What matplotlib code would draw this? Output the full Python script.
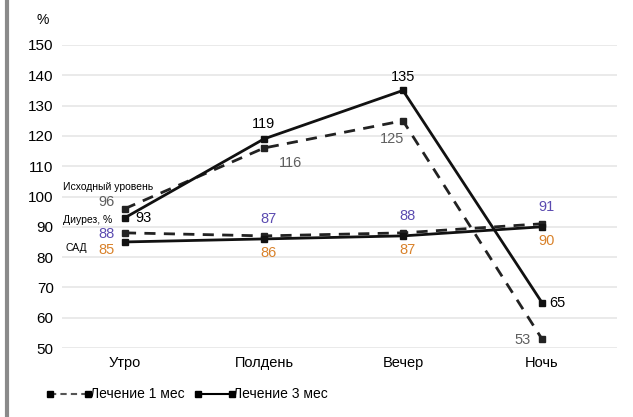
import matplotlib.pyplot as plt

categories = ["Утро", "Полдень", "Вечер", "Ночь"]
diuresis_1m = [96, 116, 125, 53]
diuresis_3m = [93, 119, 135, 65]
sad_1m = [88, 87, 88, 91]
sad_3m = [85, 86, 87, 90]
y_ticks = [50, 60, 70, 80, 90, 100, 110, 120, 130, 140, 150]

BLUE = "#5b4bb0"
ORANGE = "#d9822b"
GREY = "#5f5f5f"

plt.rcParams["font.family"] = ["Liberation Sans", "DejaVu Sans"]

W, H = 633, 417
fig = plt.figure(figsize=(W / 100, H / 100), dpi=100)
fig.set_facecolor("white")
ax = fig.add_axes([62 / W, (H - 348) / H, 555 / W, 303 / H])

x = list(range(len(categories)))
ax.set_xlim(-0.453, 3.54)
ax.set_ylim(50, 150)

for v in y_ticks:
    ax.axhline(v, color="#e6e6e6", lw=1.2, zorder=0)

dash = dict(color="#222222", lw=2.0, ls=(0, (4, 3)), marker="s", ms=4, zorder=3)
solid = dict(color="#111111", lw=2.0, ls="-", marker="s", ms=4, zorder=4)
ax.plot(x, diuresis_1m, **dash)
ax.plot(x, diuresis_3m, **solid)
ax.plot(x, sad_1m, **dash)
ax.plot(x, sad_3m, **solid)

fs = 10.5
def lab(i, y, s, color, dx=0, dy=0, ha="center"):
    ax.annotate(s, (i, y), xytext=(dx, dy), textcoords="offset points",
                ha=ha, va="center", fontsize=fs, color=color)

# upper pair
lab(0, diuresis_1m[0], str(diuresis_1m[0]), GREY, -13, 5)
lab(0, diuresis_3m[0], str(diuresis_3m[0]), "black", 13, 0)
lab(1, diuresis_3m[1], str(diuresis_3m[1]), "black", 0, 11)
lab(1, diuresis_1m[1], str(diuresis_1m[1]), GREY, 19, -11)
lab(2, diuresis_3m[2], str(diuresis_3m[2]), "black", 0, 10)
lab(2, diuresis_1m[2], str(diuresis_1m[2]), GREY, -8, -13)
lab(3, diuresis_3m[3], str(diuresis_3m[3]), "black", 11, 0)
lab(3, diuresis_1m[3], str(diuresis_1m[3]), GREY, -14, -1)

# lower pair
lab(0, sad_1m[0], str(sad_1m[0]), BLUE, -13, -0.5)
lab(0, sad_3m[0], str(sad_3m[0]), ORANGE, -13, -5.5)
for i in range(1, 4):
    lab(i, sad_1m[i], str(sad_1m[i]), BLUE, 3, 12)
    lab(i, sad_3m[i], str(sad_3m[i]), ORANGE, 3, -10)

# side notes
fig.text(63 / W, 1 - 187 / H, "Исходный уровень", fontsize=7.5, ha="left", va="center")
fig.text(63 / W, 1 - 220 / H, "Диурез, %", fontsize=7.5, ha="left", va="center")
fig.text(66 / W, 1 - 248 / H, "САД", fontsize=7.5, ha="left", va="center")
fig.text(43 / W, 1 - 20 / H, "%", fontsize=10, ha="center", va="center")

ax.set_yticks(y_ticks)
ax.set_yticklabels([str(v) for v in y_ticks], fontsize=11)
ax.set_xticks(x)
ax.set_xticklabels(categories, fontsize=fs)
ax.tick_params(length=0, pad=6)
for s in ax.spines.values():
    s.set_visible(False)
ax.set_facecolor("none")

# left border line
fig.add_artist(plt.Line2D([7 / W, 7 / W], [0, 1], color="#8a8a8a", lw=3))

# legend
ly = 1 - 394 / H
fig.add_artist(plt.Line2D([50 / W, 88 / W], [ly, ly], color="#555555", lw=1.5,
                          ls=(0, (3, 2)), marker="s", ms=4, markevery=[0, 1],
                          mfc="black", mec="black"))
fig.text(90 / W, ly, "Лечение 1 мес", fontsize=10, ha="left", va="center")
fig.add_artist(plt.Line2D([198 / W, 232 / W], [ly, ly], color="black", lw=1.5,
                          marker="s", ms=4))
fig.text(233 / W, ly, "Лечение 3 мес", fontsize=10, ha="left", va="center")

plt.savefig("out.png", dpi=100)
